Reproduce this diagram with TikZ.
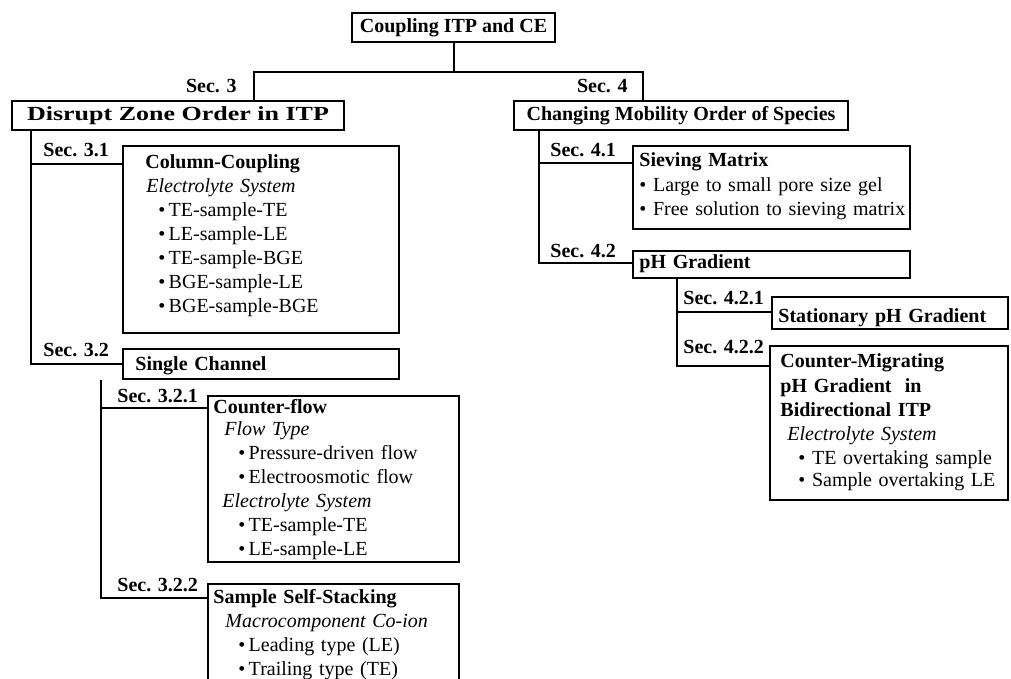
\documentclass[tikz,border=0pt]{standalone}
\usepackage{fontspec}
\setmainfont{Liberation Serif}
\usepackage{graphicx}
\usetikzlibrary{positioning,fit}

\begin{document}
\begin{tikzpicture}[x=0.5pt, y=-0.5pt,
    font=\fontsize{10}{12}\selectfont,
    box/.style={draw, line width=1.1pt, inner sep=0pt},
    head/.style={inner sep=0pt, font=\fontsize{10}{12}\selectfont\bfseries},
    txt/.style={anchor=base west, inner sep=0pt, align=left, text width=#1},
    sec/.style={anchor=base west, inner sep=0pt, font=\fontsize{10}{12}\selectfont\bfseries},
    conn/.style={line width=1pt}]
    \useasboundingbox (0,0) rectangle (1011,679);
    \clip (0,0) rectangle (1011,679);

    % headings
    \node[box, fit={(352,13) (555,42)}] (top) {};
    \node[head] (top-t) at (top) {Coupling ITP and CE};
    \node[box, fit={(12,101) (344,130)}] (dis) {};
    \node[head] (dis-t) at (dis) {\scalebox{1.3}[1]{Disrupt Zone Order in ITP}};
    \node[box, fit={(514,101) (848,130)}] (chg) {};
    \node[head] (chg-t) at (chg) {Changing Mobility Order of Species};

    % Sec. 3 boxes
    \node[box, fit={(123,146) (399,333)}] (cc) {};
    \node[txt=130pt] (cc-t) at (145,169) {\textbf{Column-Coupling}\\
        \hspace*{0.5pt}\textit{Electrolyte System}\\
        \hspace*{6.5pt}\textbullet\,TE-sample-TE\\
        \hspace*{6.5pt}\textbullet\,LE-sample-LE\\
        \hspace*{6.5pt}\textbullet\,TE-sample-BGE\\
        \hspace*{6.5pt}\textbullet\,BGE-sample-LE\\
        \hspace*{6.5pt}\textbullet\,BGE-sample-BGE};
    \node[box, fit={(123,349) (399,379)}] (sc) {};
    \node[txt=130pt] (sc-t) at (135,370) {\textbf{Single Channel}};
    \node[box, fit={(208,396) (459,562)}] (cf) {};
    \node[txt=120pt] (cf-t) at (213,413) {\textbf{Counter-flow}\\[-1pt]
        \hspace*{5.5pt}\textit{Flow Type}\\
        \hspace*{12.5pt}\textbullet\,Pressure-driven flow\\
        \hspace*{12.5pt}\textbullet\,Electroosmotic flow\\
        \hspace*{4.5pt}\textit{Electrolyte System}\\
        \hspace*{12.5pt}\textbullet\,TE-sample-TE\\
        \hspace*{12.5pt}\textbullet\,LE-sample-LE};
    \node[box, fit={(208,584) (459,720)}] (ss) {};
    \node[txt=120pt] (ss-t) at (213,603) {\textbf{Sample Self-Stacking}\\
        \hspace*{6pt}\textit{Macrocomponent Co-ion}\\
        \hspace*{12.5pt}\textbullet\,Leading type (LE)\\
        \hspace*{12.5pt}\textbullet\,Trailing type (TE)};

    % Sec. 4 boxes
    \node[box, fit={(633,146) (910,229)}] (sm) {};
    \node[txt=135pt] (sm-t) at (639,167) {\textbf{Sieving Matrix}\\[0.5pt]
        \textbullet{} Large to small pore size gel\\
        \textbullet{} Free solution to sieving matrix};
    \node[box, fit={(633,251) (910,278)}] (ph) {};
    \node[txt=130pt] (ph-t) at (639,268) {\textbf{pH Gradient}};
    \node[box, fit={(772,297) (1008,329)}] (st) {};
    \node[txt=115pt] (st-t) at (778,322) {\textbf{Stationary pH Gradient}};
    \node[box, fit={(770,346) (1008,500)}] (cm) {};
    \node[txt=115pt] (cm-t) at (780,367) {\textbf{Counter-Migrating}\\[0.5pt]
        \textbf{pH Gradient\ \ in}\\
        \textbf{Bidirectional ITP}\\
        \hspace*{3.5pt}\textit{Electrolyte System}\\
        \hspace*{9pt}\textbullet{} TE overtaking sample\\[-1pt]
        \hspace*{9pt}\textbullet{} Sample overtaking LE};

    % section labels
    \node[sec, anchor=base east] (s3) at (237,93) {Sec. 3};
    \node[sec, anchor=base east] (s4) at (628,93) {Sec. 4};
    \node[sec] (s31) at (43,157) {Sec. 3.1};
    \node[sec] (s32) at (43,356) {Sec. 3.2};
    \node[sec] (s321) at (117,402) {Sec. 3.2.1};
    \node[sec] (s322) at (117,591) {Sec. 3.2.2};
    \node[sec] (s41) at (550,157) {Sec. 4.1};
    \node[sec] (s42) at (550,257) {Sec. 4.2};
    \node[sec] (s421) at (683,304) {Sec. 4.2.1};
    \node[sec] (s422) at (683,353) {Sec. 4.2.2};

    % junctions
    \coordinate (j3) at (254,72);
    \coordinate (j4) at (643,72);
    \coordinate (t31) at (31,164);
    \coordinate (t321) at (101,408);
    \coordinate (t322) at (101,598);
    \coordinate (t41) at (539,163);
    \coordinate (t42) at (539,263);
    \coordinate (t421) at (677,312);
    \coordinate (t422) at (677,366);

    % connectors
    \draw[conn] (top.south) -- (top.south |- j3);
    \draw[conn] (dis.north -| j3) -- (j3) -- (j4) -- (chg.north -| j4);
    \draw[conn] (dis.south -| t31) |- (sc.west);
    \draw[conn] (t31) -- (t31 -| cc.west);
    \draw[conn] (sc.south -| t321) -- (t322) -- (t322 -| ss.west);
    \draw[conn] (t321) -- (t321 -| cf.west);
    \draw[conn] (chg.south -| t41) -- (t42) -- (t42 -| ph.west);
    \draw[conn] (t41) -- (t41 -| sm.west);
    \draw[conn] (ph.south -| t421) -- (t422) -- (t422 -| cm.west);
    \draw[conn] (t421) -- (t421 -| st.west);
\end{tikzpicture}
\end{document}
